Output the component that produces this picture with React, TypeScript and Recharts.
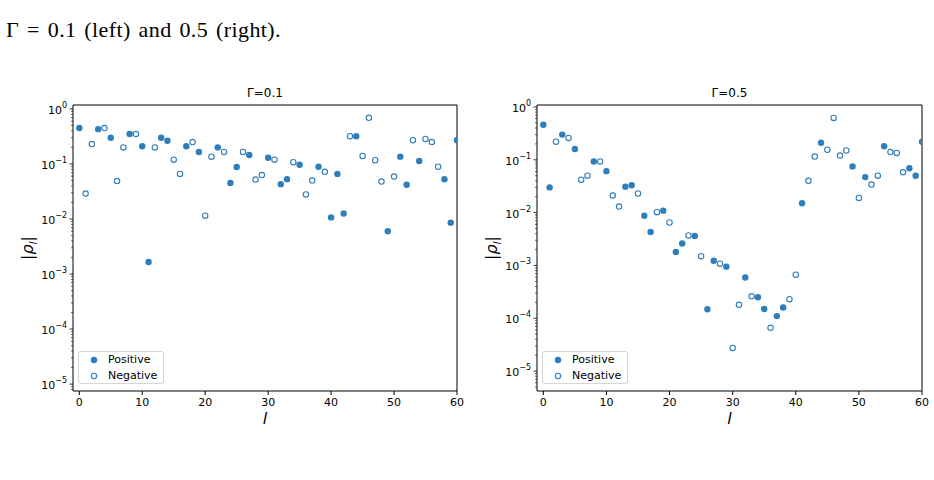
import {
  ScatterChart,
  Scatter,
  XAxis,
  YAxis,
  ReferenceArea,
} from 'recharts'

// signed density-matrix elements rho_l for l = 0..60
const RHO_G01 = [
  0.45, -0.029, -0.23, 0.43, -0.45, 0.3, -0.049, -0.2, 0.35, -0.35,
  0.21, 0.00166, -0.2, 0.3, 0.265, -0.12, -0.066, 0.21, -0.25, 0.165,
  -0.0115, -0.136, 0.2, -0.165, 0.045, 0.088, -0.165, 0.146, -0.052, -0.063,
  0.13, -0.12, 0.043, 0.053, -0.108, 0.097, -0.028, -0.05, 0.089, -0.072,
  0.0107, 0.066, 0.0126, -0.32, 0.32, -0.14, -0.69, -0.117, -0.048, 0.006,
  -0.059, 0.136, 0.042, -0.27, 0.113, -0.285, -0.25, -0.089, 0.053, 0.0086,
  0.27,
]

const RHO_G05 = [
  0.46, 0.03, -0.22, 0.3, -0.26, 0.16, -0.042, -0.05, 0.093, -0.093,
  0.061, -0.021, -0.013, 0.031, 0.033, -0.023, 0.0087, 0.0043, -0.0102, 0.0109,
  -0.0065, 0.0018, 0.0026, -0.0037, 0.0036, -0.0015, 0.000148, 0.00123, -0.00108, 0.00095,
  -0.0000275, -0.00018, 0.00059, -0.00026, 0.00025, 0.00015, -0.000066, 0.00011, 0.00016, -0.00023,
  -0.00067, 0.015, -0.04, -0.115, 0.21, -0.155, -0.62, -0.12, -0.15, 0.075,
  -0.019, 0.047, -0.034, -0.05, 0.18, -0.14, -0.135, -0.058, 0.069, 0.05,
  0.22,
]

const X_TICKS = [0, 10, 20, 30, 40, 50, 60]
const MAJOR_TICKS = [1e-5, 1e-4, 1e-3, 1e-2, 1e-1, 1]
const MINOR_STEPS = [2, 3, 4, 5, 6, 7, 8, 9]

const BLUE = '#2f7ebc'
const FONT = '"DejaVu Sans", sans-serif'

function logTicks(lo: number, hi: number) {
  const out: number[] = []
  for (const m of [1e-6, ...MAJOR_TICKS]) {
    out.push(m)
    for (const s of MINOR_STEPS) out.push(m * s)
  }
  return out.filter(t => t >= lo && t <= hi)
}

function YTick({ x, y, payload }: any) {
  const v = payload.value as number
  const e = Math.log10(v)
  const exp = Math.round(e)
  if (Math.abs(e - exp) > 1e-6) {
    return <line x1={x - 2} x2={x} y1={y} y2={y} stroke="#000" strokeWidth={0.6} />
  }
  const sup = exp < 0 ? `\u2212${-exp}` : `${exp}`
  return (
    <g>
      <line x1={x - 3.5} x2={x} y1={y} y2={y} stroke="#000" strokeWidth={0.8} />
      <text x={x - 6} y={y + 5} textAnchor="end" fontSize={11} fontFamily={FONT} fill="#000">
        10
        <tspan dy={-6} fontSize={8}>{sup}</tspan>
      </text>
    </g>
  )
}

const FilledDot = ({ cx, cy }: any) => <circle cx={cx} cy={cy} r={3.2} fill={BLUE} />
const OpenDot = ({ cx, cy }: any) => (
  <circle cx={cx} cy={cy} r={2.7} fill="none" stroke={BLUE} strokeWidth={1.1} />
)

interface PanelProps {
  rho: number[]
  title: string
  left: number
  yDomain: [number, number]
  rightMargin: number
}

function Panel({ rho, title, left, yDomain, rightMargin }: PanelProps) {
  const pos = rho.map((r, l) => ({ l, v: r })).filter(d => d.v > 0)
  const neg = rho.map((r, l) => ({ l, v: -r })).filter(d => d.v > 0)
  const plotLeft = left + 73
  const plotRight = left + 470 - rightMargin
  const midX = (plotLeft + plotRight) / 2

  return (
    <>
      <div
        style={{
          position: 'absolute', left: midX - 60, width: 120, top: 86,
          textAlign: 'center', fontFamily: FONT, fontSize: 12, lineHeight: '14px',
        }}
      >
        {title}
      </div>
      <div style={{ position: 'absolute', left, top: 80 }}>
        <ScatterChart width={470} height={350} margin={{ top: 25, right: rightMargin, bottom: 0, left: 0 }}>
          <XAxis
            type="number"
            dataKey="l"
            domain={[-1, 60]}
            allowDataOverflow
            ticks={X_TICKS}
            interval={0}
            axisLine={false}
            stroke="#000"
            tickSize={4}
            tickMargin={3}
            height={39}
            tick={{ fill: '#000', fontSize: 11, fontFamily: FONT }}
          />
          <YAxis
            type="number"
            dataKey="v"
            scale="log"
            domain={yDomain}
            allowDataOverflow
            ticks={logTicks(yDomain[0], yDomain[1])}
            interval={0}
            axisLine={false}
            tickLine={false}
            tickSize={0}
            tickMargin={0}
            width={73}
            tick={<YTick />}
          />
          <Scatter data={pos} shape={<FilledDot />} isAnimationActive={false} />
          <Scatter data={neg} shape={<OpenDot />} isAnimationActive={false} />
          <ReferenceArea
            x1={-1}
            x2={60}
            y1={yDomain[0]}
            y2={yDomain[1]}
            fill="none"
            fillOpacity={0}
            stroke="#000"
            strokeWidth={1}
            ifOverflow="visible"
          />
        </ScatterChart>
      </div>
      {/* y label |rho_l| */}
      <div
        style={{
          position: 'absolute', left: left + 28 - 40, top: 248 - 10, width: 80, height: 20,
          transform: 'rotate(-90deg)', textAlign: 'center', fontFamily: FONT, fontSize: 16,
          lineHeight: '20px',
        }}
      >
        |<i>ρ</i><sub style={{ fontSize: 11, fontStyle: 'italic' }}>l</sub>|
      </div>
      {/* x label */}
      <div
        style={{
          position: 'absolute', left: midX - 20, width: 40, top: 410, textAlign: 'center',
          fontFamily: FONT, fontSize: 16, fontStyle: 'italic', lineHeight: '18px',
        }}
      >
        l
      </div>
      {/* legend box */}
      <div
        style={{
          position: 'absolute', left: plotLeft + 5, top: 351, width: 86, height: 33,
          border: '1px solid #d6d6d6', borderRadius: 3, background: 'rgba(255,255,255,0.8)',
          fontFamily: FONT, fontSize: 11, lineHeight: '16px', boxSizing: 'border-box',
        }}
      >
        {[
          { label: 'Positive', filled: true },
          { label: 'Negative', filled: false },
        ].map(item => (
          <div key={item.label} style={{ position: 'relative', height: 16 }}>
            <svg width={12} height={12} style={{ position: 'absolute', left: 9, top: 2 }}>
              {item.filled ? (
                <circle cx={6} cy={6} r={3.2} fill={BLUE} />
              ) : (
                <circle cx={6} cy={6} r={2.7} fill="none" stroke={BLUE} strokeWidth={1.1} />
              )}
            </svg>
            <span style={{ position: 'absolute', left: 29, top: 0 }}>{item.label}</span>
          </div>
        ))}
      </div>
    </>
  )
}

export default function App() {
  return (
    <div
      style={{
        position: 'absolute', left: 0, top: 0, width: 934, height: 480,
        background: '#fff', overflow: 'hidden',
      }}
    >
      <div
        style={{
          position: 'absolute', left: 6, top: 19, fontFamily: '"Liberation Serif", serif',
          fontSize: 22, lineHeight: '22px', whiteSpace: 'nowrap', letterSpacing: 0.4,
          wordSpacing: 2,
        }}
      >
        Γ = 0.1 (left) and 0.5 (right).
      </div>
      <Panel rho={RHO_G01} title="Γ=0.1" left={0} yDomain={[7.5e-6, 1.18]} rightMargin={13} />
      <Panel rho={RHO_G05} title="Γ=0.5" left={464} yDomain={[4.2e-6, 1.09]} rightMargin={12} />
    </div>
  )
}
